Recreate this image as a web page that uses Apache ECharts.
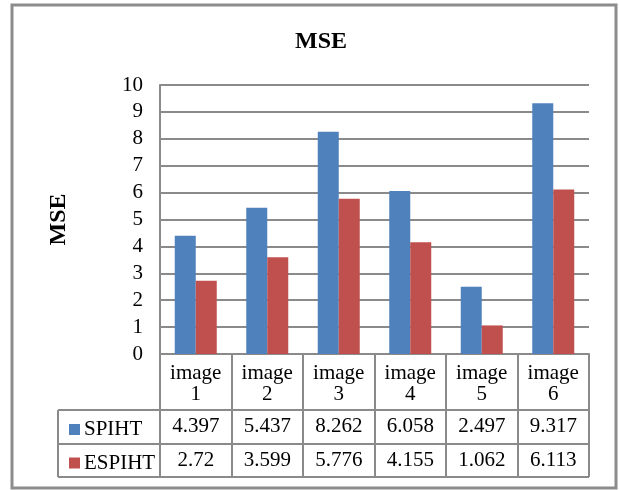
<!DOCTYPE html>
<html>
<head>
<meta charset="utf-8">
<script src="https://cdn.jsdelivr.net/npm/echarts@6/dist/echarts.min.js"></script>
<style>
  html, body { margin: 0; padding: 0; background: #ffffff; }
  #chart { width: 619px; height: 490px; }
</style>
</head>
<body>
<div id="chart"></div>
<script>
// Image set and mean-squared-error values for both coders
const categories = ['image 1', 'image 2', 'image 3', 'image 4', 'image 5', 'image 6'];
const spiht = [4.397, 5.437, 8.262, 6.058, 2.497, 9.317];
const espiht = [2.72, 3.599, 5.776, 4.155, 1.062, 6.113];
const seriesNames = ['SPIHT', 'ESPIHT'];
const yTicks = { min: 0, max: 10, interval: 1 };

// Layout of the plot area and the data table beneath it
const W = 619, H = 490;
const plot = { left: 160, right: 589, top: 85, bottom: 354 };
const rows = { header: 410, first: 444, second: 477 };
const tableLeft = 58;
const FONT = '"Liberation Serif", "Times New Roman", serif';
const FS = 21;
const LINE = '#8a8a8a';
const colors = ['#4F81BD', '#C0504D'];

const chart = echarts.init(document.getElementById('chart'), null, { renderer: 'canvas' });

function tableAxis(offset, values) {
  return {
    type: 'category',
    data: categories,
    position: 'bottom',
    offset: offset,
    axisLine: { show: false },
    axisTick: { show: false },
    splitLine: { show: false },
    axisLabel: {
      interval: 0,
      margin: 0,
      color: '#000',
      fontFamily: FONT,
      fontSize: FS,
      lineHeight: 21,
      formatter: (v, i) => String(values[i])
    }
  };
}

// Table lines: column separators and row rules
const colW = (plot.right - plot.left) / categories.length;
const graphics = [];
function hline(x1, x2, y) {
  graphics.push({ type: 'line', silent: true, shape: { x1, y1: y, x2, y2: y },
    style: { stroke: LINE, lineWidth: 2 } });
}
function vline(x, y1, y2) {
  graphics.push({ type: 'line', silent: true, shape: { x1: x, y1, x2: x, y2 },
    style: { stroke: LINE, lineWidth: 2 } });
}
for (let i = 0; i <= categories.length; i++) {
  vline(Math.round(plot.left + i * colW), plot.bottom, rows.second);
}
vline(tableLeft, rows.header, rows.second);
hline(tableLeft, plot.right, rows.header);
hline(tableLeft, plot.right, rows.first);
hline(tableLeft, plot.right, rows.second);

// Outer chart frame
graphics.push({ type: 'rect', silent: true, shape: { x: 12, y: 5, width: 604, height: 483 },
  style: { fill: 'none', stroke: '#8c8c8c', lineWidth: 3 } });

const legendBase = {
  orient: 'horizontal',
  left: 64,
  icon: 'rect',
  itemWidth: 11,
  itemHeight: 11,
  itemGap: 0,
  selectedMode: false,
  textStyle: { fontFamily: FONT, fontSize: FS, color: '#000', padding: [0, 0, 0, -1] }
};

chart.setOption({
  animation: false,
  backgroundColor: '#ffffff',
  color: colors,
  title: {
    text: 'MSE',
    left: 316,
    textAlign: 'center',
    top: 25,
    textStyle: { fontFamily: FONT, fontSize: 24, fontWeight: 'bold', color: '#000' }
  },
  legend: [
    Object.assign({}, legendBase, { data: [seriesNames[0]], top: (rows.header + rows.first) / 2 - 13 }),
    Object.assign({}, legendBase, { data: [seriesNames[1]], top: (rows.first + rows.second) / 2 - 13 })
  ],
  grid: {
    left: plot.left,
    right: W - plot.right,
    top: plot.top,
    bottom: H - plot.bottom,
    containLabel: false
  },
  xAxis: [
    {
      type: 'category',
      data: categories,
      axisLine: { show: true, lineStyle: { color: LINE, width: 2 } },
      axisTick: { show: false },
      axisLabel: {
        interval: 0,
        margin: 9,
        color: '#000',
        fontFamily: FONT,
        fontSize: FS,
        lineHeight: 21,
        formatter: v => v.replace(' ', '\n')
      }
    },
    tableAxis(62, spiht),
    tableAxis(96, espiht)
  ],
  yAxis: {
    type: 'value',
    min: yTicks.min,
    max: yTicks.max,
    interval: yTicks.interval,
    name: 'MSE',
    nameLocation: 'middle',
    nameGap: 89,
    nameRotate: 90,
    nameTextStyle: { fontFamily: FONT, fontSize: 24, fontWeight: 'bold', color: '#000' },
    axisLine: { show: true, lineStyle: { color: LINE, width: 2 } },
    axisTick: { show: false },
    axisLabel: { margin: 17, color: '#000', fontFamily: FONT, fontSize: FS },
    splitLine: { show: true, lineStyle: { color: LINE, width: 2 } }
  },
  series: [
    { name: seriesNames[0], type: 'bar', data: spiht, barWidth: 21, barGap: '0%' },
    { name: seriesNames[1], type: 'bar', data: espiht, barWidth: 21, barGap: '0%' }
  ],
  graphic: graphics
});
</script>
</body>
</html>
